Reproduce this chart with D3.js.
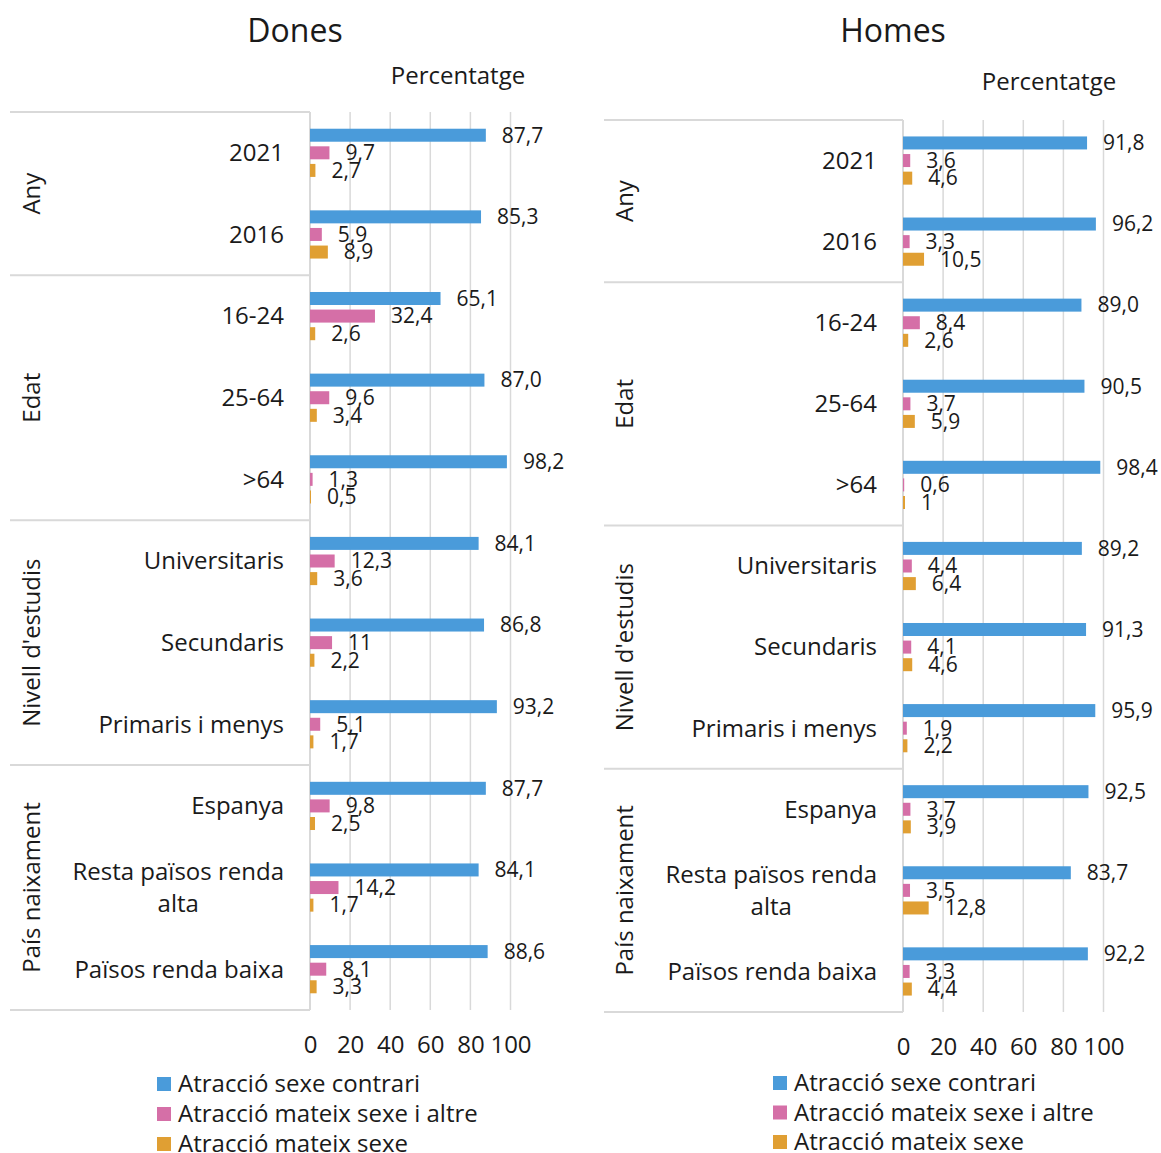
<!DOCTYPE html>
<html>
<head>
<meta charset="utf-8">
<script src="https://cdn.jsdelivr.net/npm/d3@7"></script>
<style>
  html, body { margin: 0; padding: 0; background: #fff; }
  svg { display: block; font-family: "Open Sans", "Noto Sans", sans-serif; }
</style>
</head>
<body>
<svg id="chart" width="1161" height="1153"></svg>
<script>
// ---------- DATA ----------
const categories = ["2021", "2016", "16-24", "25-64", ">64", "Universitaris", "Secundaris",
  "Primaris i menys", "Espanya", "Resta països renda alta", "Països renda baixa"];
const groups = ["Any", "Edat", "Nivell d'estudis", "País naixament"];
const groupSizes = [2, 3, 3, 3];
const seriesNames = ["Atracció sexe contrari", "Atracció mateix sexe i altre", "Atracció mateix sexe"];
const seriesColors = ["#4A9BDA", "#D56FA7", "#E09F33"];
const panelTitles = ["Dones", "Homes"];
const xTicks = [0, 20, 40, 60, 80, 100];

const donesContrari = [87.7, 85.3, 65.1, 87.0, 98.2, 84.1, 86.8, 93.2, 87.7, 84.1, 88.6];
const donesMateixAltre = [9.7, 5.9, 32.4, 9.6, 1.3, 12.3, 11, 5.1, 9.8, 14.2, 8.1];
const donesMateix = [2.7, 8.9, 2.6, 3.4, 0.5, 3.6, 2.2, 1.7, 2.5, 1.7, 3.3];

const homesContrari = [91.8, 96.2, 89.0, 90.5, 98.4, 89.2, 91.3, 95.9, 92.5, 83.7, 92.2];
const homesMateixAltre = [3.6, 3.3, 8.4, 3.7, 0.6, 4.4, 4.1, 1.9, 3.7, 3.5, 3.3];
const homesMateix = [4.6, 10.5, 2.6, 5.9, 1, 6.4, 4.6, 2.2, 3.9, 12.8, 4.4];

// ---------- LAYOUT ----------
const panels = [
  { title: panelTitles[0], series: [donesContrari, donesMateixAltre, donesMateix],
    boxX: 10, axisX: 310, top: 112, bottom: 1010, titleX: 295, titleY: 42,
    pctX: 458, pctY: 84, catRight: 284, groupX: 32, legendX: 157, legendY0: 1084, legendStep: 30 },
  { title: panelTitles[1], series: [homesContrari, homesMateixAltre, homesMateix],
    boxX: 604, axisX: 903, top: 120, bottom: 1012, titleX: 893, titleY: 42,
    pctX: 1049, pctY: 90, catRight: 877, groupX: 625, legendX: 773, legendY0: 1083, legendStep: 29.5 }
];

const svg = d3.select("#chart");
const gridColor = "#D9D9D9";
const textColor = "#1a1a1a";
const barH = 13, barStep = 17.6;
const fs = 24;

function fmt(v, si) {
  const s = si === 0 ? d3.format(".1f")(v) : String(v);
  return s.replace(".", ",");
}

panels.forEach(p => {
  const g = svg.append("g");
  const x = d3.scaleLinear().domain([0, 100]).range([p.axisX, p.axisX + 200.5]);
  const y = d3.scaleBand().domain(categories).range([p.top, p.bottom]).padding(0);

  // title
  g.append("text").attr("x", p.titleX).attr("y", p.titleY).attr("text-anchor", "middle")
    .attr("font-size", 32).attr("fill", textColor).text(p.title);
  g.append("text").attr("x", p.pctX).attr("y", p.pctY).attr("text-anchor", "middle")
    .attr("font-size", fs).attr("fill", textColor).text("Percentatge");

  // gridlines
  g.append("g").selectAll("line").data(xTicks.filter(d => d > 0)).join("line")
    .attr("x1", d => x(d)).attr("x2", d => x(d))
    .attr("y1", p.top).attr("y2", p.bottom)
    .attr("stroke", gridColor).attr("stroke-width", 1.5);

  // category axis line
  g.append("line").attr("x1", x(0)).attr("x2", x(0)).attr("y1", p.top).attr("y2", p.bottom)
    .attr("stroke", gridColor).attr("stroke-width", 2);

  // group boundaries
  let idx = 0;
  const bounds = [0];
  groupSizes.forEach(s => { idx += s; bounds.push(idx); });
  const by = i => i < categories.length ? y(categories[i]) : p.bottom;
  g.append("g").selectAll("line").data(bounds).join("line")
    .attr("x1", p.boxX).attr("x2", x(0))
    .attr("y1", d => by(d)).attr("y2", d => by(d))
    .attr("stroke", gridColor).attr("stroke-width", 2);

  // group labels
  groups.forEach((gr, gi) => {
    const cy = (by(bounds[gi]) + by(bounds[gi + 1])) / 2;
    g.append("text")
      .attr("transform", `translate(${p.groupX},${cy}) rotate(-90)`)
      .attr("text-anchor", "middle").attr("dy", "0.35em")
      .attr("font-size", fs).attr("fill", textColor).text(gr);
  });

  // category labels
  categories.forEach(c => {
    const cy = y(c) + y.bandwidth() / 2;
    if (c === "Resta països renda alta") {
      const lines = ["Resta països renda", "alta"];
      const t = g.append("text").attr("font-size", fs).attr("fill", textColor)
        .attr("text-anchor", "middle");
      const tmp = g.append("text").attr("font-size", fs).text(lines[0]);
      const w = tmp.node().getComputedTextLength();
      tmp.remove();
      const cx = p.catRight - w / 2;
      lines.forEach((l, li) => {
        t.append("tspan").attr("x", cx).attr("y", cy + (li - 0.5) * 32).attr("dy", "0.35em").text(l);
      });
    } else {
      g.append("text").attr("x", p.catRight).attr("y", cy).attr("dy", "0.35em")
        .attr("text-anchor", "end").attr("font-size", fs).attr("fill", textColor).text(c);
    }
  });

  // bars + labels
  p.series.forEach((vals, si) => {
    const off = (si - 1) * barStep;
    g.append("g").selectAll("rect").data(vals).join("rect")
      .attr("x", x(0))
      .attr("y", (d, i) => y(categories[i]) + y.bandwidth() / 2 + off - barH / 2)
      .attr("width", d => x(d) - x(0))
      .attr("height", barH)
      .attr("fill", seriesColors[si]);
    g.append("g").selectAll("text").data(vals).join("text")
      .attr("x", d => x(d) + 16)
      .attr("y", (d, i) => y(categories[i]) + y.bandwidth() / 2 + off)
      .attr("dy", "0.35em")
      .attr("font-size", 21).attr("fill", textColor)
      .text(d => fmt(d, si));
  });

  // x axis tick labels
  const ax = g.append("g").attr("transform", `translate(0,${p.bottom})`)
    .call(d3.axisBottom(x).tickValues(xTicks).tickSize(0).tickPadding(26).tickFormat(d3.format("d")));
  ax.select(".domain").remove();
  ax.selectAll("text").attr("font-size", fs).attr("fill", textColor)
    .attr("font-family", "'Open Sans', 'Noto Sans', sans-serif");

  // legend
  seriesNames.forEach((s, si) => {
    const ly = p.legendY0 + si * p.legendStep;
    g.append("rect").attr("x", p.legendX).attr("y", ly - 7).attr("width", 14).attr("height", 14)
      .attr("fill", seriesColors[si]);
    g.append("text").attr("x", p.legendX + 21).attr("y", ly).attr("dy", "0.35em")
      .attr("font-size", fs).attr("fill", textColor).text(s);
  });
});
</script>
</body>
</html>
